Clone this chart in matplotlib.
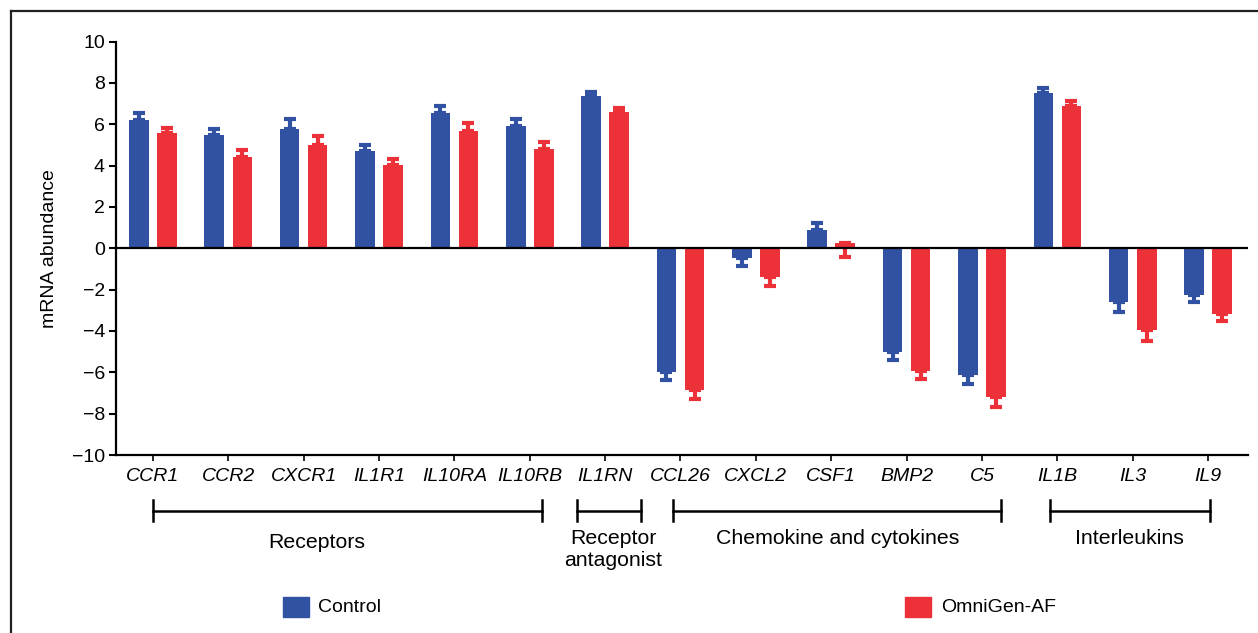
import matplotlib
matplotlib.use("Agg")
import matplotlib.pyplot as plt
import numpy as np
from matplotlib.lines import Line2D
from matplotlib.patches import Rectangle

plt.rcParams['font.family'] = ['Liberation Sans', 'DejaVu Sans']

genes = ["CCR1", "CCR2", "CXCR1", "IL1R1", "IL10RA", "IL10RB", "IL1RN",
         "CCL26", "CXCL2", "CSF1", "BMP2", "C5", "IL1B", "IL3", "IL9"]
control = [6.18, 5.46, 5.78, 4.72, 6.52, 5.89, 7.35,
           -6.00, -0.49, 0.88, -5.03, -6.13, 7.50, -2.62, -2.26]
omnigen = [5.57, 4.41, 4.97, 4.04, 5.68, 4.78, 6.57,
           -6.87, -1.41, 0.23, -5.95, -7.21, 6.90, -3.95, -3.18]
# signed error: positive drawn upward, negative drawn downward
control_err = [0.36, 0.32, 0.45, 0.25, 0.34, 0.37, 0.20,
               -0.35, -0.36, 0.34, -0.39, -0.42, 0.25, -0.48, -0.34]
omnigen_err = [0.26, 0.35, 0.45, 0.26, 0.36, 0.37, 0.20,
               -0.42, -0.40, -0.63, -0.37, -0.48, 0.22, -0.53, -0.32]

groups = ["Receptors", "Receptor\nantagonist", "Chemokine and cytokines", "Interleukins"]
group_span = [(0.0, 5.16), (5.63, 6.48), (6.90, 11.25), (11.90, 14.02)]
group_label_x = [2.17, 6.11, 9.08, 12.96]
series_names = ["Control", "OmniGen-AF"]

BLUE = "#3151A3"
RED = "#EC3138"

W, H = 1258, 633
fig = plt.figure(figsize=(W / 100, H / 100), dpi=100)
ax = fig.add_axes([116 / W, (H - 455) / H, (1248 - 116) / W, (455 - 41.5) / H])

x = np.arange(len(genes))
off = 0.186
bw = 0.26

def split_err(err):
    e = np.array(err)
    lower = np.where(e < 0, -e, 0)
    upper = np.where(e > 0, e, 0)
    return [lower, upper]

for vals, err, col, sgn in [(control, control_err, BLUE, -1), (omnigen, omnigen_err, RED, 1)]:
    xs = x + sgn * off
    ax.bar(xs, vals, width=bw, color=col, zorder=2)
    ax.errorbar(xs, vals, yerr=split_err(err), fmt='none', ecolor=col,
                elinewidth=3.0, capsize=4.0, capthick=3.0, zorder=3)

ax.axhline(0, color='black', lw=1.6, zorder=4)
ax.set_xlim(-0.49, 14.53)
ax.set_ylim(-10, 10)
ax.set_yticks(np.arange(-10, 11, 2))
ax.set_yticklabels([str(v).replace('-', '\u2212') for v in range(-10, 11, 2)])
ax.set_xticks(x)
ax.set_xticklabels(genes, style='italic', fontsize=14)
ax.tick_params(axis='y', length=5, width=1.5, labelsize=14, pad=3)
ax.tick_params(axis='x', length=4.5, width=1.2, pad=5)
for s in ['top', 'right']:
    ax.spines[s].set_visible(False)
for s in ['left', 'bottom']:
    ax.spines[s].set_linewidth(1.6)
ax.set_ylabel("mRNA abundance", fontsize=14, labelpad=10)

# group brackets
tr = ax.get_xaxis_transform()
ah = 455 - 41.5
def fy(py):
    return -(py - 455) / ah
yb, yt0, yt1 = fy(510.7), fy(500), fy(521)
for (a, b) in group_span:
    ax.plot([a, b], [yb, yb], color='black', lw=1.8, transform=tr, clip_on=False)
    for e in (a, b):
        ax.plot([e, e], [yt0, yt1], color='black', lw=1.8, transform=tr, clip_on=False)
label_y = [fy(543), fy(549), fy(538), fy(538)]
for g, gx, gy in zip(groups, group_label_x, label_y):
    ax.text(gx, gy, g, transform=tr, ha='center', va='center', fontsize=15.3,
            linespacing=1.2)

# legend
for (px0, tx), name, col in zip([(283, 318), (905, 941)], series_names, [BLUE, RED]):
    fig.add_artist(Rectangle((px0 / W, (H - 617) / H), 26 / W, 20 / H,
                             transform=fig.transFigure, color=col))
    fig.text(tx / W, (H - 607) / H, name, ha='left', va='center', fontsize=14)

# frame lines
fig.add_artist(Line2D([11 / W, 1], [(H - 10.5) / H, (H - 10.5) / H], color='#222222', lw=1.6,
                      transform=fig.transFigure))
fig.add_artist(Line2D([11 / W, 11 / W], [0, (H - 10.5) / H], color='#222222', lw=1.6,
                      transform=fig.transFigure))

fig.savefig("out.png", dpi=100)
